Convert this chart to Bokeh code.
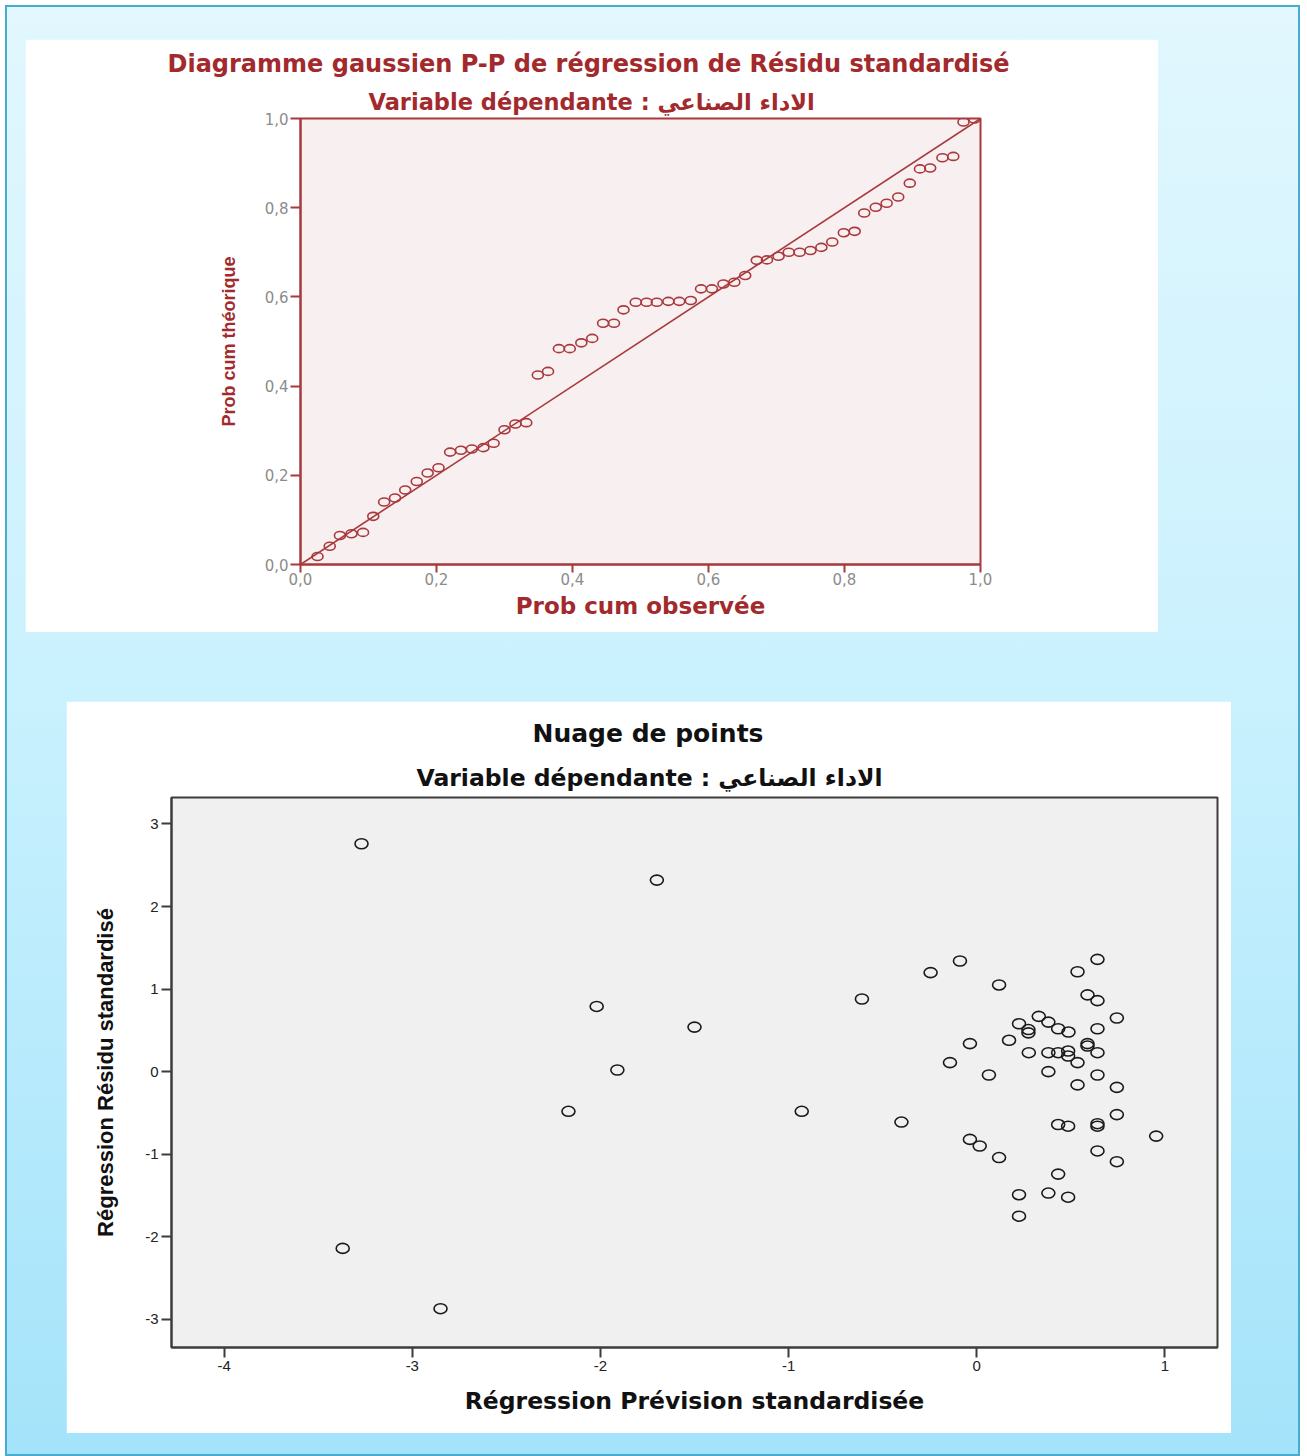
from bokeh.plotting import figure
from bokeh.models import FixedTicker, CustomJSTickFormatter, Title, Slope, Range1d
from bokeh.layouts import column, row
from bokeh.embed import file_html
from bokeh.resources import INLINE

# ---- P-P plot of standardized residuals ----
pp_observed = [0.025, 0.043, 0.058, 0.075, 0.092, 0.107, 0.123, 0.139, 0.154, 0.171,
               0.187, 0.203, 0.220, 0.236, 0.252, 0.269, 0.284, 0.300, 0.316, 0.332,
               0.349, 0.364, 0.380, 0.396, 0.413, 0.429, 0.445, 0.461, 0.475, 0.493,
               0.509, 0.524, 0.541, 0.557, 0.574, 0.589, 0.605, 0.622, 0.638, 0.654,
               0.671, 0.686, 0.703, 0.718, 0.734, 0.750, 0.766, 0.782, 0.799, 0.815,
               0.829, 0.846, 0.862, 0.879, 0.896, 0.911, 0.926, 0.944, 0.960, 0.975,
               0.991]
pp_expected = [0.018, 0.041, 0.065, 0.069, 0.072, 0.108, 0.140, 0.149, 0.167, 0.186,
               0.205, 0.217, 0.252, 0.256, 0.259, 0.262, 0.272, 0.302, 0.315, 0.318,
               0.425, 0.433, 0.484, 0.484, 0.497, 0.507, 0.541, 0.541, 0.571, 0.588,
               0.588, 0.588, 0.590, 0.590, 0.592, 0.618, 0.618, 0.629, 0.633, 0.648,
               0.682, 0.683, 0.691, 0.700, 0.700, 0.704, 0.711, 0.723, 0.744, 0.747,
               0.788, 0.801, 0.810, 0.824, 0.855, 0.887, 0.889, 0.912, 0.915, 0.992,
               0.999]
pp_ticks = [0.0, 0.2, 0.4, 0.6, 0.8, 1.0]

# ---- Residuals vs. predicted values ----
pred_std = [-3.27, -3.37, -2.85, -1.70, -2.02, -1.50, -1.91, -2.17, -0.93, -0.61,
            -0.40, -0.245, -0.089, 0.119, 0.642, 0.536, 0.589, 0.642, 0.745, 0.330,
            0.225, 0.275, 0.275, 0.381, 0.433, 0.488, 0.642, 0.172, -0.036, 0.589,
            0.589, 0.277, 0.381, 0.433, 0.486, 0.486, 0.642, 0.536, -0.142, 0.065,
            0.381, 0.642, 0.536, 0.745, 0.745, 0.433, 0.486, 0.642, 0.642, 0.954,
            -0.036, 0.016, 0.119, 0.642, 0.745, 0.433, 0.225, 0.381, 0.486, 0.225]
resid_std = [2.76, -2.14, -2.87, 2.32, 0.79, 0.54, 0.02, -0.48, -0.48, 0.88,
             -0.61, 1.20, 1.34, 1.05, 1.36, 1.21, 0.93, 0.86, 0.65, 0.67,
             0.58, 0.51, 0.47, 0.60, 0.52, 0.48, 0.52, 0.38, 0.34, 0.34,
             0.31, 0.23, 0.23, 0.23, 0.25, 0.19, 0.23, 0.11, 0.11, -0.04,
             0.00, -0.04, -0.16, -0.19, -0.52, -0.64, -0.66, -0.63, -0.66, -0.78,
             -0.82, -0.90, -1.04, -0.96, -1.09, -1.24, -1.49, -1.47, -1.52, -1.75]
pred_ticks = [-4, -3, -2, -1, 0, 1]
resid_ticks = [-3, -2, -1, 0, 1, 2, 3]

DARK_RED = "#a8393c"
TEXT_RED = "#a22a2d"
WIDE_BOLD = "DejaVu Sans"
NARROW = "Liberation Sans"
subtitle = "Variable dépendante : الاداء الصناعي"

# ================= P-P chart =================
p1 = figure(frame_width=680, frame_height=446,
            x_range=Range1d(0, 1), y_range=Range1d(0, 1),
            min_border_left=275, min_border_right=178,
            min_border_top=79, min_border_bottom=68,
            output_backend="svg", toolbar_location=None,
            background_fill_color="#f8eff0", border_fill_color="white")
p1.grid.visible = False
p1.outline_line_color = DARK_RED
p1.outline_line_width = 2

p1.add_layout(Title(text=subtitle, align="left", offset=68, standoff=8,
                    text_font=WIDE_BOLD, text_font_style="bold",
                    text_font_size="22.5px", text_color=TEXT_RED), "above")
p1.add_layout(Title(text="Diagramme gaussien P-P de régression de Résidu standardisé",
                    align="left", offset=-133, standoff=9,
                    text_font=WIDE_BOLD, text_font_style="bold",
                    text_font_size="24px", text_color=TEXT_RED), "above")

pp_fmt = CustomJSTickFormatter(code="return tick.toFixed(1).replace('.', ',');")
for ax in (p1.xaxis[0], p1.yaxis[0]):
    ax.ticker = FixedTicker(ticks=pp_ticks)
    ax.formatter = pp_fmt
    ax.axis_line_color = DARK_RED
    ax.axis_line_width = 2
    ax.major_tick_line_color = DARK_RED
    ax.major_tick_line_width = 2
    ax.major_tick_in = 0
    ax.minor_tick_line_color = None
    ax.major_label_text_color = "#8c8c8c"
    ax.major_label_text_font = "DejaVu Sans"
    ax.major_label_text_font_size = "15px"
    ax.axis_label_text_color = TEXT_RED
    ax.axis_label_text_font_style = "bold"
p1.xaxis.major_tick_out = 8
p1.yaxis.major_tick_out = 10
p1.xaxis.major_label_standoff = 0
p1.yaxis.major_label_standoff = 2
p1.xaxis.axis_label = "Prob cum observée"
p1.xaxis.axis_label_text_font = WIDE_BOLD
p1.xaxis.axis_label_text_font_size = "23px"
p1.xaxis.axis_label_standoff = 5
p1.yaxis.axis_label = "Prob cum théorique"
p1.yaxis.axis_label_text_font = NARROW
p1.yaxis.axis_label_text_font_size = "18px"
p1.yaxis.axis_label_standoff = 23

p1.add_layout(Slope(gradient=1, y_intercept=0, line_color=DARK_RED, line_width=1.6))
p1.ellipse(x=pp_observed, y=pp_expected, width=11, height=8,
           width_units="screen", height_units="screen",
           fill_color=None, line_color=DARK_RED, line_width=1.6)

# ================= Scatter chart =================
p2 = figure(frame_width=1046, frame_height=550,
            x_range=Range1d(-4.28, 1.28), y_range=Range1d(-3.34, 3.32),
            min_border_left=105, min_border_right=14,
            min_border_top=96, min_border_bottom=86,
            output_backend="svg", toolbar_location=None,
            background_fill_color="#f0f0f0", border_fill_color="white")
p2.grid.visible = False
p2.outline_line_color = "#3c3c3c"
p2.outline_line_width = 2

p2.add_layout(Title(text=subtitle, align="left", offset=245, standoff=11,
                    text_font=WIDE_BOLD, text_font_style="bold",
                    text_font_size="23.5px", text_color="#111111"), "above")
p2.add_layout(Title(text="Nuage de points", align="left", offset=361, standoff=17,
                    text_font=WIDE_BOLD, text_font_style="bold",
                    text_font_size="25px", text_color="#111111"), "above")

int_fmt = CustomJSTickFormatter(code="return tick.toFixed(0);")
p2.xaxis.ticker = FixedTicker(ticks=pred_ticks)
p2.yaxis.ticker = FixedTicker(ticks=resid_ticks)
for ax in (p2.xaxis[0], p2.yaxis[0]):
    ax.formatter = int_fmt
    ax.axis_line_color = "#3c3c3c"
    ax.axis_line_width = 2
    ax.major_tick_line_color = "#3c3c3c"
    ax.major_tick_line_width = 2
    ax.major_tick_in = 0
    ax.major_tick_out = 10
    ax.minor_tick_line_color = None
    ax.major_label_text_color = "#222222"
    ax.major_label_text_font = "Liberation Sans"
    ax.major_label_text_font_size = "15px"
    ax.major_label_standoff = 3
    ax.axis_label_text_color = "#111111"
    ax.axis_label_text_font_style = "bold"
p2.xaxis.axis_label = "Régression Prévision standardisée"
p2.xaxis.axis_label_text_font = WIDE_BOLD
p2.xaxis.axis_label_text_font_size = "23.5px"
p2.xaxis.axis_label_standoff = 13
p2.yaxis.axis_label = "Régression Résidu standardisé"
p2.yaxis.axis_label_text_font = NARROW
p2.yaxis.axis_label_text_font_size = "22px"
p2.yaxis.axis_label_standoff = 24

p2.ellipse(x=pred_std, y=resid_std, width=13, height=10,
           width_units="screen", height_units="screen",
           fill_color=None, line_color="#1a1a1a", line_width=1.6)

# each chart sits in its own row so their frames are laid out independently
top_panel = row(p1, margin=(32, 0, 0, 18))
bottom_panel = row(p2, margin=(69, 0, 0, 59))

page = column(top_panel, bottom_panel, width=1295, height=1451, margin=(5, 0, 0, 5),
              styles={"background": "linear-gradient(180deg, #e2f7fe 0%, #c9f1fe 48%, #a4e3fa 100%)",
                      "border": "2px solid #48acd0"})

open("out.html", "w").write(file_html(page, INLINE))
